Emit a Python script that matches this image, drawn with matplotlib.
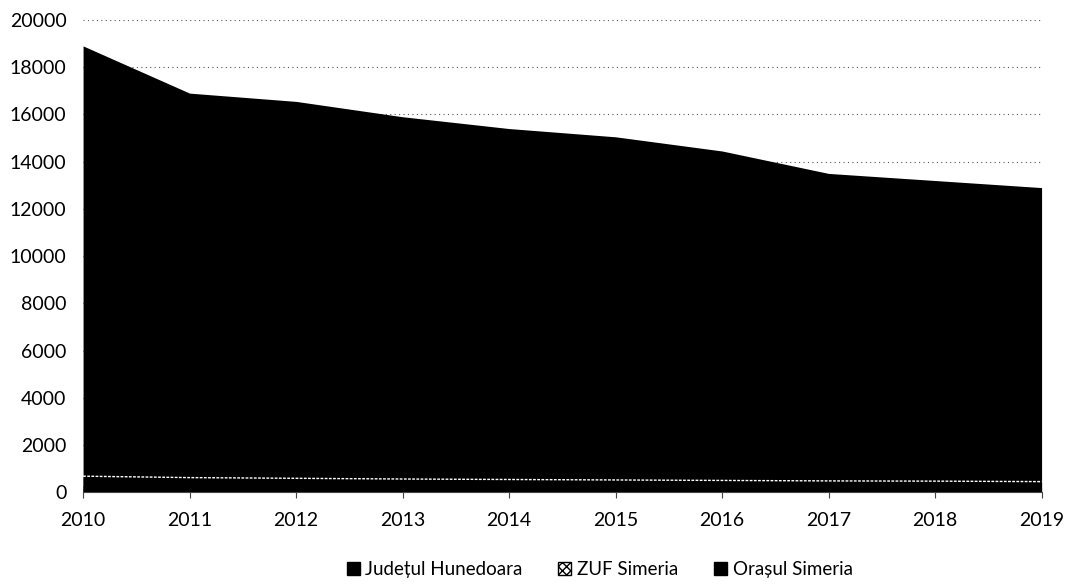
import matplotlib
matplotlib.use("Agg")
import matplotlib.pyplot as plt
from matplotlib.patches import Patch

plt.rcParams['font.family'] = ['Lato', 'DejaVu Sans']

# data
years = [2010, 2011, 2012, 2013, 2014, 2015, 2016, 2017, 2018, 2019]
hunedoara = [18900, 16900, 16550, 15900, 15400, 15050, 14450, 13500, 13200, 12900]
zuf_simeria = [680, 620, 590, 560, 540, 520, 500, 480, 470, 450]
oras_simeria = [260, 250, 240, 230, 225, 215, 210, 200, 195, 190]
series_names = ["Județul Hunedoara", "ZUF Simeria", "Orașul Simeria"]
yticks = list(range(0, 20001, 2000))

fig = plt.figure(figsize=(10.65, 5.86), dpi=100)
ax = fig.add_axes([0.078, 0.16, 0.900, 0.806])

# gridlines behind the areas
ax.set_axisbelow(True)
ax.yaxis.grid(True, color="#555555", linestyle=(0, (1, 3)), linewidth=0.8)

# Excel-style overlapped (not stacked) area chart
ax.fill_between(years, 0, hunedoara, color="black", linewidth=0)
ax.fill_between(years, 0, zuf_simeria, color="black", linewidth=0)
ax.plot(years, zuf_simeria, color="white", linestyle=(0, (2, 1)), linewidth=1)
ax.fill_between(years, 0, oras_simeria, color="black", linewidth=0)

ax.set_xlim(years[0], years[-1])
ax.set_ylim(0, 20000)
ax.set_xticks(years)
ax.set_yticks(yticks)
ax.tick_params(axis="y", length=0, labelsize=14, pad=12)
ax.tick_params(axis="x", length=4, labelsize=14, pad=10, color="#444444")

for s in ["top", "right", "left"]:
    ax.spines[s].set_visible(False)
ax.spines["bottom"].set_color("#444444")
ax.spines["bottom"].set_linestyle((0, (1, 1)))

handles = [
    Patch(facecolor="black", edgecolor="black"),
    Patch(facecolor="white", edgecolor="black", hatch="xxxx"),
    Patch(facecolor="black", edgecolor="black", hatch="||"),
]
fig.legend(handles, series_names, loc="lower center", bbox_to_anchor=(0.563, -0.015),
           ncol=3, frameon=False, fontsize=13.5, handlelength=0.7,
           handleheight=0.7, handletextpad=0.3, columnspacing=1.9)

fig.savefig("out.png", dpi=100)
